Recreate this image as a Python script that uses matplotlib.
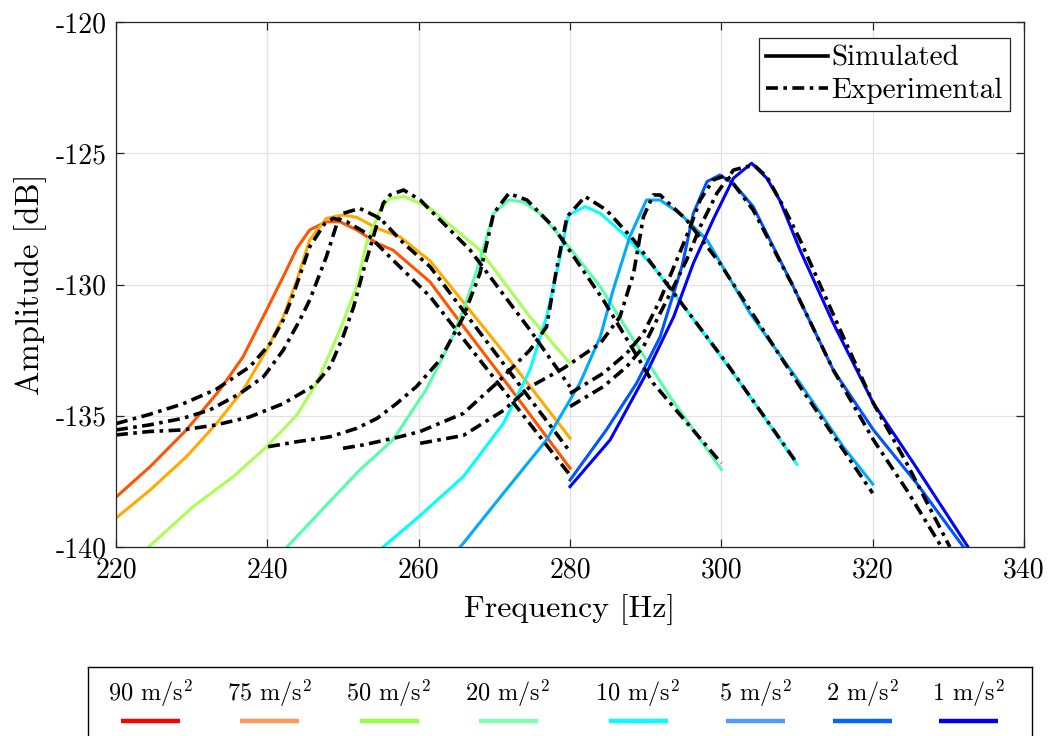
import matplotlib
matplotlib.use("Agg")
import matplotlib.pyplot as plt
from matplotlib.lines import Line2D

plt.rcParams['font.family'] = ['cmr10', 'DejaVu Serif']
plt.rcParams['mathtext.fontset'] = 'cm'
plt.rcParams['axes.unicode_minus'] = False

# --- data (frequency in Hz, amplitude in dB) ---
labels = ['90 m/s$^2$', '75 m/s$^2$', '50 m/s$^2$', '20 m/s$^2$',
          '10 m/s$^2$', '5 m/s$^2$', '2 m/s$^2$', '1 m/s$^2$']
sim_colors = ['#ff5500', '#ffaa00', '#aaff55', '#55ffaa',
              '#00ffff', '#00aaff', '#0055ff', '#0000ff']
key_colors = ['#ff0000', '#ff9955', '#99ff44', '#80ffb3',
              '#00ffff', '#5599ff', '#0066ff', '#0000ee']

sim_f = [
    [220, 224.5, 229.3, 233.7, 236.8, 239.9, 242.1, 243.9, 245.6, 247.8, 249.6,
     251.8, 254.5, 256.6, 261.5, 264.6, 271.2, 275.6, 280],
    [220, 224.5, 229.3, 233.3, 236.8, 239.9, 242.1, 243.9, 245.6, 247.8, 250.0,
     251.8, 254.5, 257.5, 261.5, 271, 280],
    [224.3, 230.2, 235.5, 239.9, 243.9, 246.5, 249.6, 251.8, 253.1, 254.9, 256.2,
     258.0, 259.7, 261.5, 268.1, 274.7, 280],
    [242.6, 247.4, 252.2, 256.6, 261.0, 264.1, 265.9, 267.7, 269.9, 271.9, 273.8,
     276.0, 279.1, 284.0, 288.4, 293.2, 300],
    [255.3, 260.2, 265.9, 271.2, 274.7, 276.9, 278.5, 279.8, 282.0, 284.0, 287.0,
     291.0, 295.4, 300.3, 303.8, 310],
    [265.5, 271.2, 276.9, 281.3, 284.0, 285.7, 287.9, 290.1, 291.9, 294.5, 298.1,
     303.8, 310.4, 316.1, 320],
    [280, 284.8, 288.8, 291.9, 294.8, 296.3, 298.1, 299.8, 301.6, 304.2, 309.5,
     314.8, 320.1, 325.8, 332.0],
    [280, 285.3, 290.1, 293.7, 296.3, 298.9, 301.6, 304.0, 306.0, 307.7, 310.4,
     314.8, 320.1, 325.4, 332.6],
]
sim_db = [
    [-138.1, -136.94, -135.54, -134.02, -132.75, -130.97, -129.7, -128.62, -127.92,
     -127.61, -127.61, -127.92, -128.43, -128.69, -129.9, -131.1, -133.6, -135.3, -137.0],
    [-138.9, -137.83, -136.56, -135.29, -134.02, -132.5, -131.23, -129.83, -128.3,
     -127.48, -127.35, -127.44, -127.86, -128.18, -129.1, -132.5, -135.85],
    [-140.0, -138.46, -137.32, -136.18, -134.97, -133.76, -131.73, -130.08, -128.43,
     -127.16, -126.72, -126.65, -126.85, -127.1, -128.69, -131.23, -133.0],
    [-140.0, -138.53, -137.07, -135.92, -134.0, -132.24, -130.97, -129.45, -127.29,
     -126.78, -126.85, -127.29, -128.3, -130.08, -132.11, -134.27, -137.05],
    [-140.0, -138.8, -137.32, -135.29, -133.26, -131.23, -129.19, -127.35, -127.03,
     -127.29, -128.05, -129.32, -130.97, -132.88, -134.27, -136.85],
    [-140.0, -137.95, -135.92, -133.76, -131.99, -130.21, -128.18, -126.78, -126.78,
     -127.29, -128.3, -131.1, -133.76, -136.18, -137.6],
    [-137.45, -135.54, -133.76, -132.0, -129.3, -127.29, -126.08, -125.83, -126.15,
     -127.03, -130.08, -133.26, -135.54, -137.57, -140.0],
    [-137.7, -135.92, -133.38, -131.23, -129.19, -127.54, -125.95, -125.38, -125.95,
     -126.78, -128.69, -131.48, -134.53, -136.81, -140.0],
]

exp_f = [
    [220, 224.4, 228.8, 233.2, 237.7, 240.4, 242.1, 243.4, 245.6, 247.6, 248.7,
     250.5, 253.1, 256.6, 259.3, 261.5, 270, 280],
    [220, 224.4, 228.8, 232.4, 236.4, 239.5, 242.1, 244.3, 245.6, 247.8, 249.2,
     250.0, 252.2, 254.9, 258.0, 261.5, 280],
    [220, 224.4, 228.8, 233.2, 237.6, 242.0, 246.2, 248.3, 250.0, 251.4, 252.7,
     254.0, 255.3, 256.2, 258.0, 260.2, 266.8, 274.7, 280],
    [240.1, 243.9, 248.3, 251.8, 254.5, 257.1, 259.7, 262.8, 265.9, 268.1, 269.9,
     271.9, 274.3, 277.8, 284.4, 291.0, 300],
    [250.0, 252.7, 257.1, 260.2, 265.9, 270.3, 274.7, 276.9, 278.2, 279.6, 282.0,
     284.8, 288.4, 295.4, 300.7, 310],
    [260.2, 265.9, 271.2, 274.7, 279.1, 284.0, 286.6, 288.4, 289.7, 291.0, 291.9,
     295.4, 299.8, 303.8, 310.4, 316.1, 320],
    [280, 284.4, 287.5, 289.7, 291.9, 294.1, 295.9, 297.2, 298.9, 300.7, 304.2,
     309.5, 314.8, 320.1, 324.5, 329.1],
    [280, 284.4, 287.5, 289.7, 291.9, 293.7, 295.4, 297.2, 299.4, 301.6, 303.3,
     304.5, 306.0, 308.2, 310.4, 315.7, 320.1, 324.5, 330.2],
]
exp_db = [
    [-135.3, -134.95, -134.55, -134.0, -133.13, -132.24, -131.35, -130.4, -128.56,
     -127.67, -127.48, -127.61, -128.05, -129.07, -129.83, -130.46, -133.58, -137.26],
    [-135.54, -135.35, -135.1, -134.78, -134.15, -133.51, -132.5, -131.35, -130.59,
     -128.94, -127.67, -127.29, -127.1, -127.48, -128.43, -129.32, -136.37],
    [-135.73, -135.6, -135.54, -135.35, -135.05, -134.55, -133.85, -133.13, -131.99,
     -130.85, -129.45, -128.18, -126.91, -126.59, -126.4, -126.78, -128.69, -131.73, -133.9],
    [-136.18, -135.99, -135.8, -135.48, -135.1, -134.53, -133.89, -132.88, -131.23,
     -129.57, -127.29, -126.53, -126.78, -127.8, -130.59, -133.76, -136.81],
    [-136.24, -136.11, -135.83, -135.6, -134.91, -133.76, -132.5, -131.61, -129.45,
     -127.42, -126.65, -127.16, -128.3, -130.97, -133.0, -136.81],
    [-136.05, -135.75, -134.8, -133.9, -133.2, -132.24, -131.23, -129.57, -127.42,
     -126.59, -126.59, -127.54, -129.19, -130.97, -133.89, -136.3, -137.95],
    [-134.15, -133.38, -132.62, -131.86, -130.59, -129.07, -127.8, -126.78, -126.02,
     -125.83, -127.16, -130.08, -133.26, -135.92, -137.83, -140.0],
    [-134.65, -133.89, -133.13, -132.37, -131.1, -130.08, -129.07, -127.8, -126.53,
     -125.64, -125.51, -125.5, -125.89, -127.03, -128.3, -131.73, -134.53, -136.81, -140.0],
]

axis_color = '#262626'
dashdot = (0, (3.3, 1.5, 1.0, 1.5))

fig = plt.figure(figsize=(10.52, 7.36), dpi=100)
ax = fig.add_axes([0.1103, 0.2568, 0.8631, 0.7133])

for f, db, c in zip(sim_f, sim_db, sim_colors):
    ax.plot(f, db, color=c, lw=2.2, solid_joinstyle='round')
for f, db in zip(exp_f, exp_db):
    ax.plot(f, db, color='black', lw=2.6, linestyle=dashdot)

ax.set_xlim(220, 340)
ax.set_ylim(-140, -120)
ax.set_xticks(range(220, 341, 20))
ax.set_yticks(range(-140, -119, 5))
ax.grid(True, color='#e3e3e3', lw=0.9)
ax.set_axisbelow(True)
ax.tick_params(direction='in', length=6, width=0.9, colors=axis_color,
               labelsize=20, top=True, right=True, pad=7)
for tl in ax.get_xticklabels() + ax.get_yticklabels():
    tl.set_color('black')
for s in ax.spines.values():
    s.set_color(axis_color)
    s.set_linewidth(0.9)
ax.set_xlabel('Frequency [Hz]', fontsize=23, labelpad=8)
ax.set_ylabel('Amplitude [dB]', fontsize=23.5, labelpad=6)

# line-style key
style_handles = [Line2D([], [], color='black', lw=2.6),
                 Line2D([], [], color='black', lw=2.6, linestyle=dashdot)]
leg = ax.legend(style_handles, ['Simulated', 'Experimental'], loc='upper right',
                bbox_to_anchor=(0.9846, 0.9695), borderaxespad=0, fontsize=21,
                handlelength=2.1, handletextpad=0.12, borderpad=0.25,
                labelspacing=0.2, fancybox=False, framealpha=1)
leg.get_frame().set_edgecolor(axis_color)
leg.get_frame().set_linewidth(0.9)

# colour key below the axes (MATLAB style: label above the swatch)
kax = fig.add_axes([0.0837, -0.02, 0.8973, 0.1137])
kax.set_xlim(88, 1032)
kax.set_ylim(750.7, 667)
kax.set_xticks([])
kax.set_yticks([])
for s in kax.spines.values():
    s.set_color('black')
    s.set_linewidth(1.0)
key_x = [150, 269, 389, 508, 638, 755, 862, 968]
for x, lab, c in zip(key_x, labels, key_colors):
    kax.text(x, 693, lab, ha='center', va='center', fontsize=17.5)
    kax.plot([x - 29.5, x + 29.5], [721, 721], color=c, lw=3.2,
             solid_capstyle='butt')

fig.savefig('out.png', dpi=100)
